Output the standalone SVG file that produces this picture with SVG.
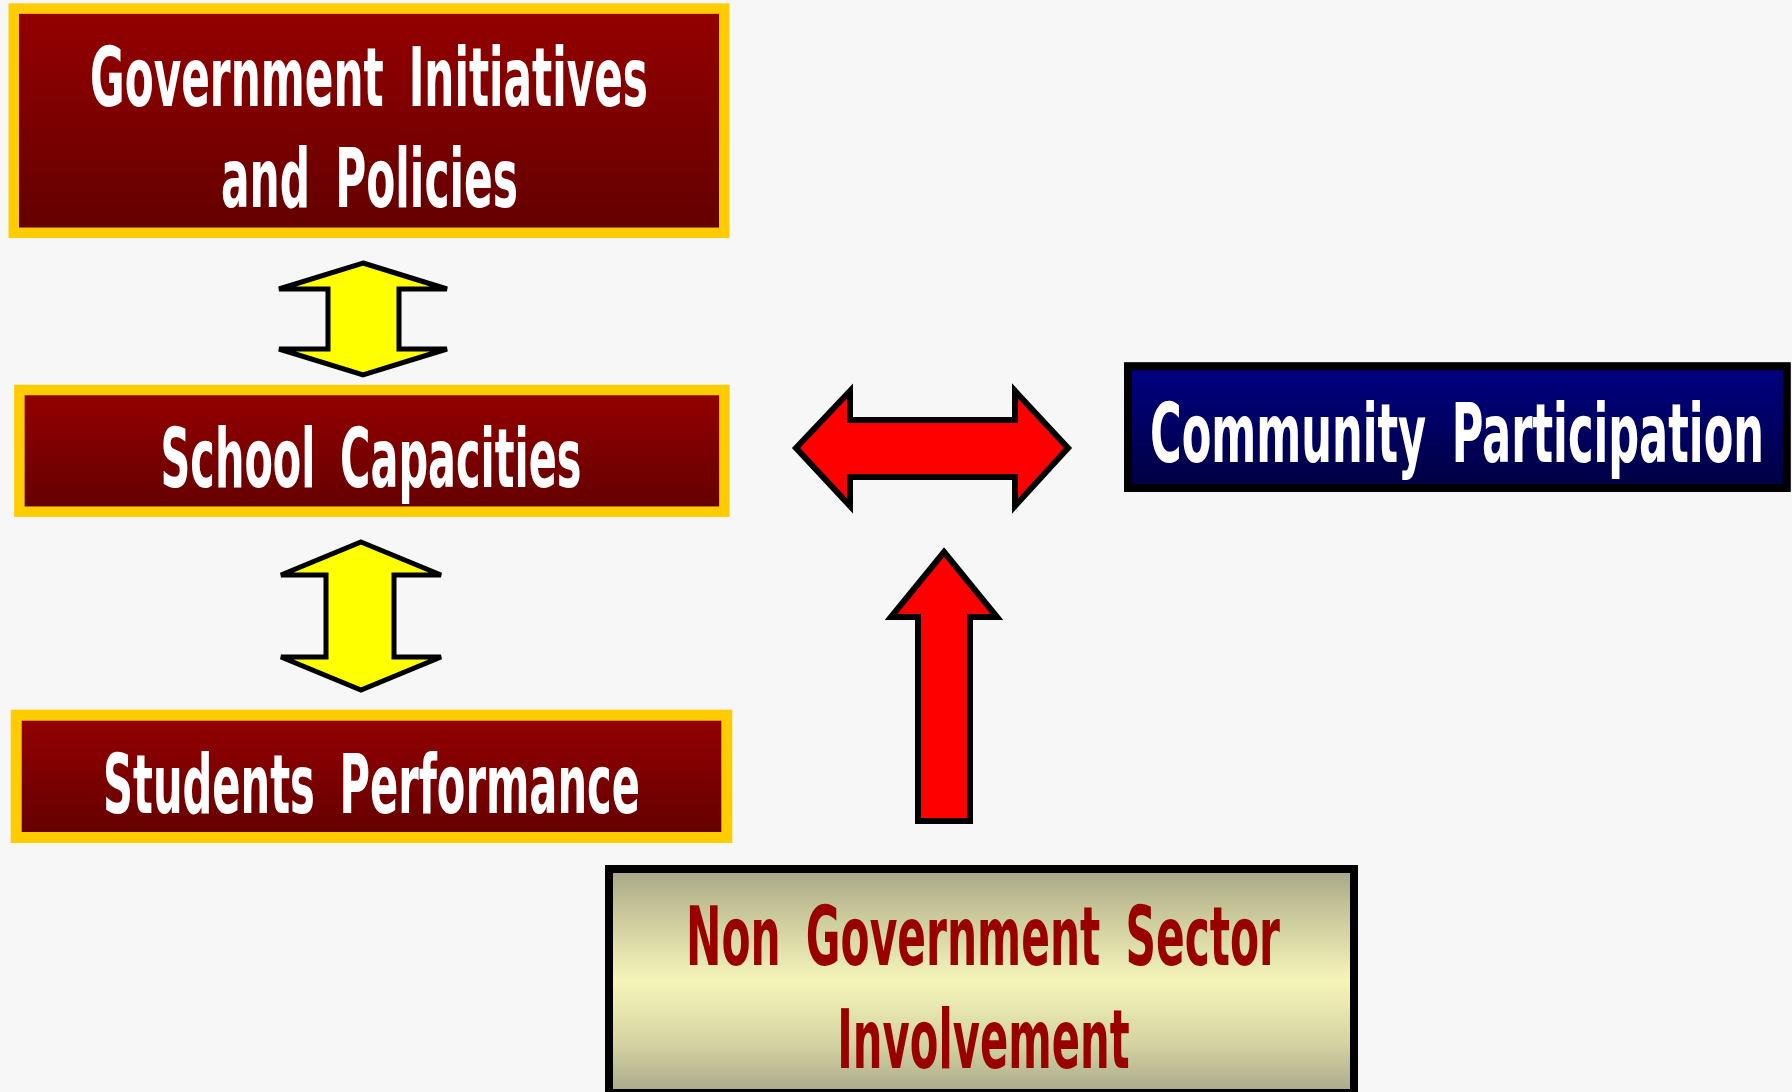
<svg xmlns="http://www.w3.org/2000/svg" width="1792" height="1092" viewBox="0 0 1792 1092">
<defs>
<linearGradient id="gRed" x1="0" y1="0" x2="0" y2="1">
<stop offset="0" stop-color="#950000"/>
<stop offset="1" stop-color="#630000"/>
</linearGradient>
<linearGradient id="gBlue" x1="0" y1="0" x2="0" y2="1">
<stop offset="0" stop-color="#000082"/>
<stop offset="1" stop-color="#000042"/>
</linearGradient>
<linearGradient id="gOlive" x1="0" y1="0" x2="0" y2="1">
<stop offset="0" stop-color="#A6A686"/>
<stop offset="0.18" stop-color="#C6C59A"/>
<stop offset="0.5" stop-color="#F5F5B9"/>
<stop offset="0.78" stop-color="#D4D3A2"/>
<stop offset="1" stop-color="#A9A98A"/>
</linearGradient>
<style>
.redbox{fill:url(#gRed);stroke:#FFCC00}
.bluebox{fill:url(#gBlue);stroke:#000000;stroke-width:8}
.olivebox{fill:url(#gOlive);stroke:#000000;stroke-width:8}
.lbl{font-family:"Liberation Sans Narrow","DejaVu Sans Condensed","Liberation Sans",sans-serif;font-weight:bold;font-size:82px;text-anchor:middle;word-spacing:18px}
.w{fill:#FFFFFF}
.r{fill:#990000}
.ya{fill:#FFFF00;stroke:#000000;stroke-width:5;stroke-linejoin:miter}
.ra{fill:#FF0000;stroke:#000000;stroke-width:6;stroke-linejoin:miter}
</style>
</defs>
<rect x="0" y="0" width="1792" height="1092" fill="#F7F7F7"/>

<g id="connectors">
<polygon class="ya" points="363,263 447,289 399,289 399,349 447,349 363,375 279,349 328,349 328,289 279,289"/>
<polygon class="ya" points="361,542 441,575 394,575 394,657 441,657 361,690 281,657 326,657 326,575 281,575"/>
<polygon class="ra" points="796,448 850,391 850,420 1015,420 1015,391 1068,448 1015,506 1015,477 850,477 850,506"/>
<polygon class="ra" points="944,552 997,617 970,617 970,821 918,821 918,617 891,617"/>
</g>

<g id="gov">
<rect class="redbox" x="13.75" y="8.6" width="710.5" height="224.2" stroke-width="10.5"/>
<text class="lbl w" x="369" y="106" textLength="558" lengthAdjust="spacingAndGlyphs">Government Initiatives</text>
<text class="lbl w" x="369.5" y="207" textLength="297" lengthAdjust="spacingAndGlyphs">and Policies</text>
</g>

<g id="school">
<rect class="redbox" x="19.4" y="390" width="705" height="121.7" stroke-width="10.5"/>
<text class="lbl w" x="371" y="486.5" textLength="421" lengthAdjust="spacingAndGlyphs">School Capacities</text>
</g>

<g id="students">
<rect class="redbox" x="16.2" y="715.2" width="710.6" height="122.3" stroke-width="11"/>
<text class="lbl w" x="371.5" y="812.7" textLength="537" lengthAdjust="spacingAndGlyphs">Students Performance</text>
</g>

<g id="community">
<rect class="bluebox" x="1128" y="366.2" width="658.8" height="121.8"/>
<text class="lbl w" x="1457" y="462" textLength="614" lengthAdjust="spacingAndGlyphs">Community Participation</text>
</g>

<g id="nongov">
<rect class="olivebox" x="609" y="869" width="745" height="224"/>
<text class="lbl r" x="983" y="965.3" textLength="594" lengthAdjust="spacingAndGlyphs">Non Government Sector</text>
<text class="lbl r" x="983.5" y="1067.7" textLength="292.5" lengthAdjust="spacingAndGlyphs">Involvement</text>
</g>
</svg>
